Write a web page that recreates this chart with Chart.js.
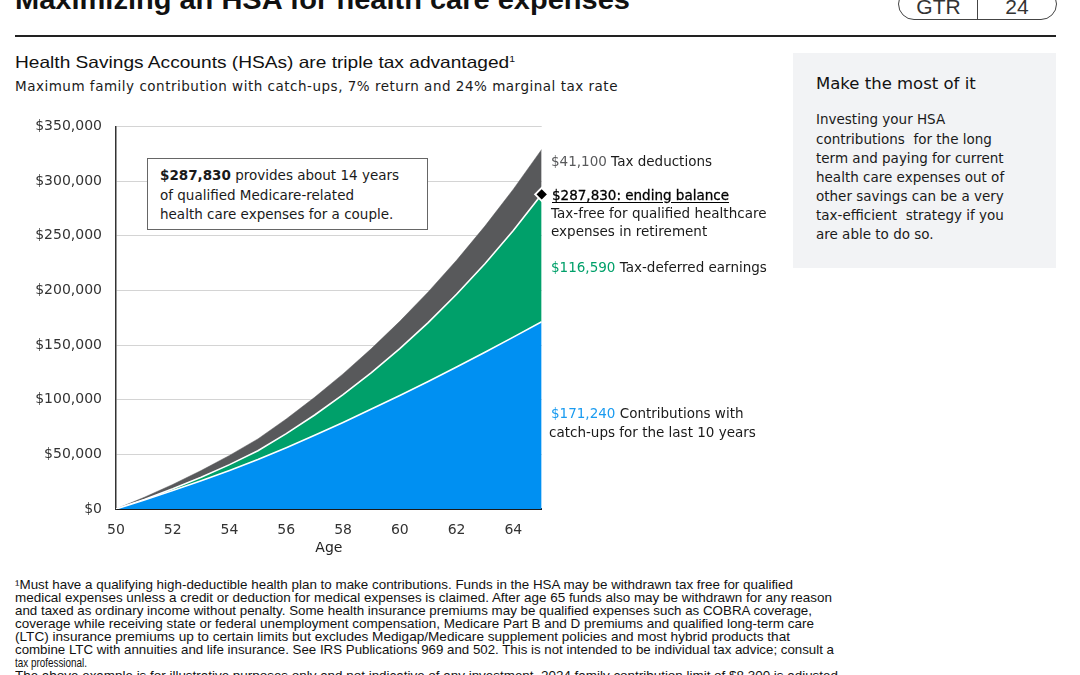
<!DOCTYPE html>
<html><head><meta charset="utf-8">
<script src="https://cdn.jsdelivr.net/npm/chart.js@4.4.1/dist/chart.umd.min.js"></script>
<style>
html,body{margin:0;padding:0;}
body{width:1080px;height:675px;overflow:hidden;position:relative;background:#fff;color:#1a1a1a;font-family:"DejaVu Sans",sans-serif;}
.a{position:absolute;white-space:nowrap;}
.t{font-size:13.5px;line-height:16px;}
.side{font-size:13.5px;line-height:16px;color:#1a1a1a;}
.fn{font-family:"Liberation Sans",Arial,sans-serif;font-size:13.3px;line-height:13px;color:#111;transform-origin:0 50%;}
#chartWrap{position:absolute;left:0;top:104px;width:560px;height:466px;}
</style></head><body>

<div class="a" id="title" data-fit="615" data-mode="sx" style="left:15px;top:-14px;font:bold 28px/28px 'Liberation Sans',Arial,sans-serif;color:#111;transform-origin:0 50%;">Maximizing an HSA for health care expenses</div>
<div class="a" style="left:898px;top:-12px;width:159px;height:32px;border:1.3px solid #444;border-radius:16px;box-sizing:border-box;"></div>
<div class="a" style="left:977px;top:-12px;width:1.3px;height:32px;background:#444;"></div>
<div class="a" style="left:899px;width:79px;top:-4px;text-align:center;font:300 21px/22px 'Liberation Sans',Arial,sans-serif;color:#333;">GTR</div>
<div class="a" style="left:978px;width:78px;top:-4px;text-align:center;font:300 21px/22px 'Liberation Sans',Arial,sans-serif;color:#333;">24</div>
<div class="a" style="left:15px;top:35px;width:1041px;height:1.6px;background:#222;"></div>

<div class="a" data-fit="500" data-mode="sx" style="left:15px;top:52px;font:16.5px/20px 'Liberation Sans',Arial,sans-serif;color:#111;transform-origin:0 50%;">Health Savings Accounts (HSAs) are triple tax advantaged<sup style="font-size:9px;line-height:0;">1</sup></div>
<div class="a" data-fit="603" data-mode="ls" style="left:15px;top:78px;font-size:13.5px;line-height:16px;color:#1a1a1a;">Maximum family contribution with catch-ups, 7% return and 24% marginal tax rate</div>

<div class="a" style="left:793px;top:53px;width:263px;height:215px;background:#f2f3f5;"></div>
<div class="a" style="left:816px;top:74px;font-size:16.5px;line-height:20px;color:#111;">Make the most of it</div>
<div class="a side" style="left:816px;top:111px;">Investing your HSA</div>
<div class="a side" style="left:816px;top:130.5px;">contributions&nbsp; for the long</div>
<div class="a side" style="left:816px;top:149.5px;">term and paying for current</div>
<div class="a side" style="left:816px;top:168.5px;">health care expenses out of</div>
<div class="a side" style="left:816px;top:188px;">other savings can be a very</div>
<div class="a side" style="left:816px;top:207px;">tax-efficient&nbsp; strategy if you</div>
<div class="a side" style="left:816px;top:226px;">are able to do so.</div>

<div id="chartWrap"><canvas id="c" width="560" height="466"></canvas></div>

<div class="a" style="left:147px;top:158px;width:281px;height:72px;border:1px solid #666;box-sizing:border-box;background:#fff;"></div>
<div class="a t" style="left:160px;top:167px;"><b>$287,830</b> provides about 14 years</div>
<div class="a t" style="left:160px;top:186.5px;">of qualified Medicare-related</div>
<div class="a t" style="left:160px;top:206px;">health care expenses for a couple.</div>

<div class="a t" style="left:551px;top:153px;"><span style="color:#58595b">$41,100</span> Tax deductions</div>
<div class="a t" style="left:552px;top:186.5px;color:#000;text-decoration:underline;text-underline-offset:2px;-webkit-text-stroke:0.3px #000;">$287,830: ending balance</div>
<div class="a t" style="left:551px;top:205px;">Tax-free for qualified healthcare</div>
<div class="a t" style="left:551px;top:222.5px;">expenses in retirement</div>
<div class="a t" style="left:551px;top:259px;"><span style="color:#00a06a">$116,590</span> Tax-deferred earnings</div>
<div class="a t" style="left:551px;top:405px;"><span style="color:#1a9bf0">$171,240</span> Contributions with</div>
<div class="a t" style="left:549px;top:424px;">catch-ups for the last 10 years</div>

<div class="a fn" data-fit="778" data-mode="sx" style="left:15px;top:578px;">¹Must have a qualifying high-deductible health plan to make contributions. Funds in the HSA may be withdrawn tax free for qualified</div>
<div class="a fn" data-fit="817" data-mode="sx" style="left:15px;top:591px;">medical expenses unless a credit or deduction for medical expenses is claimed. After age 65 funds also may be withdrawn for any reason</div>
<div class="a fn" data-fit="797" data-mode="sx" style="left:15px;top:604px;">and taxed as ordinary income without penalty. Some health insurance premiums may be qualified expenses such as COBRA coverage,</div>
<div class="a fn" data-fit="799" data-mode="sx" style="left:15px;top:617px;">coverage while receiving state or federal unemployment compensation, Medicare Part B and D premiums and qualified long-term care</div>
<div class="a fn" data-fit="775" data-mode="sx" style="left:15px;top:630px;">(LTC) insurance premiums up to certain limits but excludes Medigap/Medicare supplement policies and most hybrid products that</div>
<div class="a fn" data-fit="819" data-mode="sx" style="left:15px;top:643px;">combine LTC with annuities and life insurance. See IRS Publications 969 and 502. This is not intended to be individual tax advice; consult a</div>
<div class="a fn" data-fit="72" data-mode="sx" style="left:15px;top:656px;">tax professional.</div>
<div class="a fn" data-fit="823" data-mode="sx" style="left:15px;top:669px;">The above example is for illustrative purposes only and not indicative of any investment. 2024 family contribution limit of $8,300 is adjusted</div>

<script>
// ---- Data ----
const ages = [50,51,52,53,54,55,56,57,58,59,60,61,62,63,64,65];
const contributions = [0,8300,16900,25800,35200,45200,56000,67400,79200,91400,103900,116700,129850,143350,157250,171240];
const earnings = [0,470,1520,3200,5390,8060,12930,18610,25400,33410,42860,53850,66540,81050,97540,116590];
const taxDeductions = [0,1990,4060,6190,8450,10850,13440,16180,19010,21940,24940,28010,31160,34400,37740,41100];
const endingAge = 65;
const endingBalance = 287830;
const xTickValues = [50,52,54,56,58,60,62,64];
const yTickValues = [0,50000,100000,150000,200000,250000,300000,350000];

const BLUE = '#0090f2', GREEN = '#00a06a', GRAY = '#58595b';

function pts(arr){ return ages.map((a,i)=>({x:a,y:arr[i]})); }

// ---- fit text widths ----
document.querySelectorAll('[data-fit]').forEach(el=>{
  const target = +el.dataset.fit;
  const w = el.getBoundingClientRect().width;
  if(el.dataset.mode==='sx'){
    el.style.transform = 'scaleX(' + (target/w) + ')';
  } else {
    const n = el.textContent.length;
    el.style.letterSpacing = ((target-w)/n) + 'px';
  }
});

const tickFont = {family:'DejaVu Sans', size:14};
new Chart(document.getElementById('c'), {
  type:'line',
  data:{datasets:[
    {label:'Contributions', data:pts(contributions), backgroundColor:BLUE, borderColor:'#ffffff', borderWidth:1.6, fill:'origin', pointRadius:0, tension:0, stack:'hsa'},
    {label:'Tax-deferred earnings', data:pts(earnings), backgroundColor:GREEN, borderColor:'#ffffff', borderWidth:1.6, fill:'-1', pointRadius:0, tension:0, stack:'hsa'},
    {label:'Tax deductions', data:pts(taxDeductions), backgroundColor:GRAY, borderColor:GRAY, borderWidth:0.5, fill:'-1', pointRadius:0, tension:0, stack:'hsa'},
    {label:'Ending balance', data:[{x:endingAge,y:endingBalance}], showLine:false, fill:false, stack:'marker', order:-1, clip:false,
     pointStyle:'rectRot', pointRadius:6.5, pointBackgroundColor:'#000', pointBorderColor:'#fff', pointBorderWidth:2}
  ]},
  options:{
    responsive:false, animation:false, devicePixelRatio:1,
    layout:{padding:{top:7,right:18.3,left:0,bottom:0}},
    plugins:{legend:{display:false}, tooltip:{enabled:false}},
    scales:{
      x:{type:'linear', min:50, max:65,
        afterBuildTicks:s=>{ s.ticks = xTickValues.map(v=>({value:v})); },
        afterFit:s=>{ s.height = 61; },
        grid:{display:false, drawTicks:false},
        border:{display:true, color:'#1a1a1a', width:2},
        ticks:{font:tickFont, color:'#333', padding:13, maxRotation:0, callback:v=>String(v)},
        title:{display:true, text:'Age', font:tickFont, color:'#222', padding:{top:0,bottom:13.6}}
      },
      y:{stacked:true, min:0, max:350000,
        afterBuildTicks:s=>{ s.ticks = yTickValues.map(v=>({value:v})); },
        afterFit:s=>{ s.width = 116; },
        grid:{color:c=> c.tick && c.tick.value===0 ? 'rgba(0,0,0,0)' : '#d4d4d4', lineWidth:1, drawTicks:false},
        border:{display:true, color:'#333', width:1.5},
        ticks:{font:tickFont, color:'#333', padding:14, callback:v=>'$'+Number(v).toLocaleString('en-US')}
      }
    }
  }
});
</script>
</body></html>
